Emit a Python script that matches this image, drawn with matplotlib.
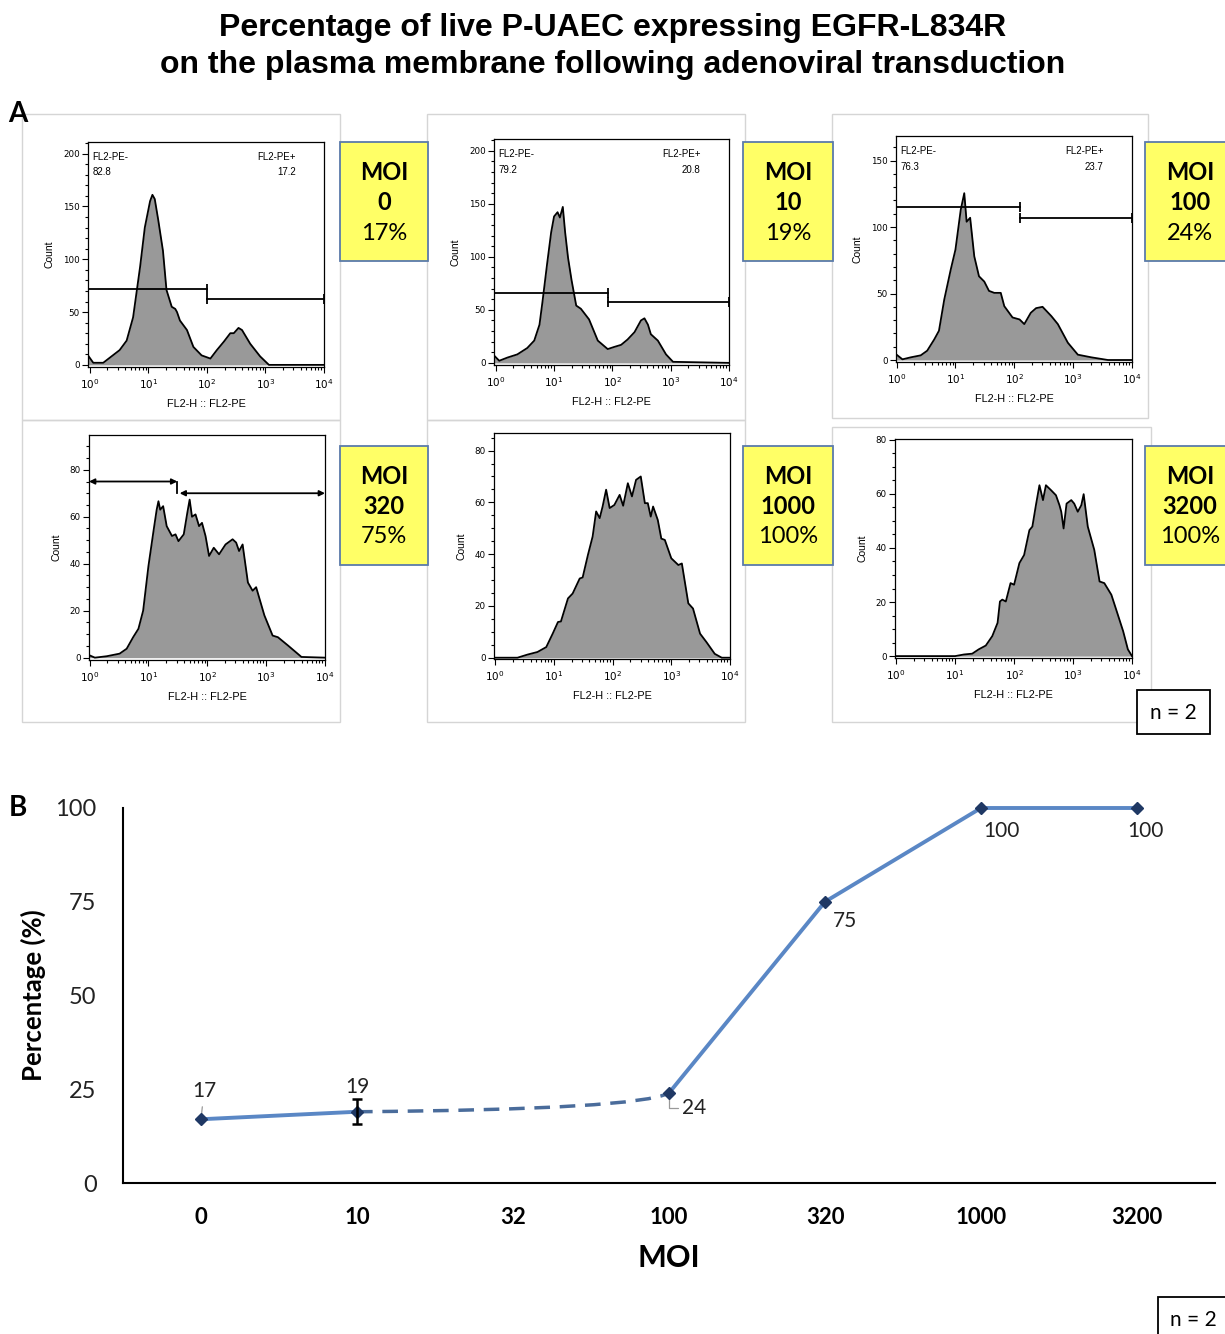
import numpy as np
import matplotlib.pyplot as plt
from matplotlib.patches import Rectangle, PathPatch
from matplotlib.path import Path
from matplotlib.ticker import FixedLocator, MultipleLocator, LogLocator, NullFormatter

W, H = 1225, 1334

# ---- Panel A: FL2-PE histogram outlines as (log10 FL2-PE, count) ----
moi0_logx = [-0.03, 0.06, 0.23, 0.37, 0.51, 0.63, 0.74, 0.86, 0.94, 1.03, 1.07, 1.11, 1.17, 1.25, 1.31,
             1.40, 1.46, 1.49, 1.54, 1.66, 1.77, 1.91, 2.06, 2.17, 2.29, 2.40, 2.46, 2.54, 2.60, 2.74,
             2.91, 3.06, 4.0]
moi0_count = [9, 2, 2, 8, 14, 23, 45, 93, 130, 155, 161, 157, 137, 108, 71,
              55, 53, 50, 42, 33, 17, 9, 6, 14, 22, 30, 30, 35, 33, 20,
              8, 0, 0]

moi10_logx = [-0.03, 0.06, 0.20, 0.37, 0.54, 0.66, 0.75, 0.80, 0.88, 0.95, 1.00, 1.06, 1.10, 1.15, 1.19,
              1.24, 1.30, 1.38, 1.46, 1.60, 1.75, 1.92, 2.03, 2.15, 2.26, 2.38, 2.49, 2.55, 2.61, 2.66,
              2.78, 2.92, 3.04, 4.0]
moi10_count = [7, 2, 5, 8, 14, 21, 36, 57, 93, 123, 138, 142, 137, 147, 123,
               99, 78, 54, 51, 41, 21, 13, 15, 17, 22, 29, 40, 42, 36, 27,
               21, 8, 1, 0]

moi100_logx = [0.0, 0.10, 0.24, 0.41, 0.52, 0.64, 0.72, 0.81, 0.92, 1.00, 1.09, 1.15, 1.19, 1.25, 1.32,
               1.40, 1.49, 1.57, 1.66, 1.77, 1.83, 1.97, 2.09, 2.17, 2.28, 2.37, 2.48, 2.63, 2.74, 2.91,
               3.08, 3.31, 3.59, 4.0]
moi100_count = [4, 0.5, 2, 3.5, 7, 15.5, 22, 45.5, 68, 83, 113, 125.5, 104, 107, 78,
                63, 59, 52, 50.5, 50.5, 40.5, 32, 30.5, 27, 35.5, 39, 40, 33, 27, 13,
                4, 2, 0, 0]

moi320_logx = [-0.03, 0.09, 0.29, 0.51, 0.63, 0.74, 0.83, 0.91, 1.00, 1.09, 1.14, 1.17, 1.20, 1.25, 1.31,
               1.40, 1.46, 1.51, 1.60, 1.66, 1.70, 1.74, 1.80, 1.86, 1.91, 1.97, 2.03, 2.11, 2.20, 2.31,
               2.43, 2.49, 2.54, 2.60, 2.69, 2.77, 2.83, 2.97, 3.11, 3.20, 3.37, 3.60, 4.0]
moi320_count = [1.3, 0, 0.6, 1.7, 3.8, 8.7, 12.3, 20, 39, 54.6, 63, 66.6, 63, 64.5, 56,
                51.8, 52.5, 49.6, 52.5, 61.6, 67.3, 60, 61, 56, 57.4, 51.8, 43.3, 46.8, 44, 48.2,
                50.4, 49, 45.4, 48.2, 32, 28.5, 30, 18, 9.4, 8.7, 5.2, 0.3, 0]

moi1000_logx = [-0.02, 0.38, 0.55, 0.72, 0.87, 0.98, 1.07, 1.12, 1.24, 1.32, 1.44, 1.49, 1.58, 1.66, 1.72,
                1.78, 1.83, 1.89, 1.95, 2.03, 2.12, 2.18, 2.26, 2.33, 2.40, 2.48, 2.55, 2.60, 2.65, 2.69,
                2.77, 2.83, 2.89, 3.00, 3.12, 3.18, 3.29, 3.37, 3.49, 3.60, 3.74, 3.86, 4.0]
moi1000_count = [0, 0, 1.2, 2.2, 4.1, 9.3, 13.8, 14, 22.9, 24.8, 30.6, 31, 39.7, 46.8, 56.5,
                 53.9, 58.4, 64.9, 57.8, 59, 62.9, 58.7, 67.4, 62.3, 68.7, 70, 59.7, 59.7, 54.5, 58.4,
                 53.2, 46, 45.5, 38.4, 35.8, 36.4, 21, 19, 9.3, 6, 1.5, 0, 0]

moi3200_logx = [-0.02, 1.00, 1.15, 1.29, 1.40, 1.52, 1.63, 1.72, 1.76, 1.80, 1.86, 1.94, 2.00, 2.09, 2.17,
                2.26, 2.31, 2.37, 2.43, 2.49, 2.54, 2.63, 2.71, 2.77, 2.80, 2.84, 2.89, 2.97, 3.02, 3.08,
                3.14, 3.18, 3.25, 3.36, 3.45, 3.53, 3.65, 3.76, 3.85, 3.93, 4.0]
moi3200_count = [0, 0, 0.6, 0.9, 2.5, 3.9, 7.4, 12.3, 20.2, 20.9, 20.2, 27, 26.4, 34.4, 37.4,
                 46.6, 47.9, 55.8, 63.2, 57.7, 63.2, 61.3, 59.5, 55.8, 53.4, 47.2, 56.4, 57.7, 56.4, 53.4,
                 55.8, 59.9, 47.9, 39.3, 27.6, 27, 22.7, 15.3, 9.2, 2.5, 0]

# FlowJo gate statistics (% negative / % positive) for MOI 0, 10, 100
gate_neg = ['82.8', '79.2', '76.3']
gate_pos = ['17.2', '20.8', '23.7']
gate_split = [2.00, 1.92, 2.10]      # log10 boundary between the two gates
gate_neg_level = [72, 66, 115]       # height of the gate bars (count)
gate_pos_level = [62, 57, 107]

# MOI 320 uses a pair of arrow gates
gate320_split = 1.49
gate320_levels = [75, 70]

# ---- Panel B: percentage of PE+ cells per MOI ----
moi_labels = ['0', '10', '32', '100', '320', '1000', '3200']
pct = [17, 19, np.nan, 24, 75, 100, 100]
pct_err_moi10 = 3.3

panel_moi = ['0', '10', '100', '320', '1000', '3200']
panel_pct = [17, 19, 24, 75, 100, 100]

fig = plt.figure(figsize=(W / 100, H / 100), dpi=100)
fig.patch.set_facecolor('white')


def fig_rect(x0, y0, x1, y1):
    return [x0 / W, 1 - y1 / H, (x1 - x0) / W, (y1 - y0) / H]


def add_box(x0, y0, x1, y1, **kw):
    fig.add_artist(Rectangle((x0 / W, 1 - y1 / H), (x1 - x0) / W, (y1 - y0) / H,
                             transform=fig.transFigure, **kw))


def histogram(box, logx, count, xlo, ylim, ymajor, yminor):
    ax = fig.add_axes(fig_rect(*box))
    x = 10 ** np.asarray(logx)
    ax.fill_between(x, count, 0, color='#999999', lw=0)
    ax.plot(x, count, color='black', lw=1.3, solid_joinstyle='round')
    ax.set_xscale('log')
    ax.set_xlim(10 ** xlo, 1e4)
    ax.set_ylim(*ylim)
    ax.xaxis.set_major_locator(FixedLocator([1, 10, 100, 1000, 10000]))
    ax.xaxis.set_minor_locator(LogLocator(base=10, subs=np.arange(2, 10)))
    ax.xaxis.set_minor_formatter(NullFormatter())
    ax.yaxis.set_major_locator(FixedLocator(ymajor))
    ax.yaxis.set_minor_locator(MultipleLocator(yminor))
    ax.tick_params(which='both', direction='out', width=0.8, pad=2)
    ax.tick_params(axis='y', labelsize=6.3)
    ax.tick_params(axis='x', labelsize=7.5, pad=3)
    ax.tick_params(which='major', length=4)
    ax.tick_params(which='minor', length=2.5)
    for s in ax.spines.values():
        s.set_linewidth(0.9)
    ax.set_ylabel('Count', fontsize=7.5, labelpad=6, family='Liberation Sans')
    ax.set_xlabel('FL2-H :: FL2-PE', fontsize=7.8, labelpad=6, family='Liberation Sans')
    return ax


def moi_tag(x0, y0, x1, y1, moi, p):
    add_box(x0, y0, x1, y1, facecolor='#FFFF66', edgecolor='#5B7BAA', lw=1.3)
    cx = (x0 + 90 / 2) if x1 > W else (x0 + x1) / 2
    fig.text(cx / W, 1 - (y0 + 30) / H, 'MOI', ha='center', va='center',
             fontsize=17, fontweight='bold', family='Lato')
    fig.text(cx / W, 1 - (y0 + 60) / H, moi, ha='center', va='center',
             fontsize=17, fontweight='bold', family='Lato')
    fig.text(cx / W, 1 - (y0 + 91) / H, f'{p}%', ha='center', va='center',
             fontsize=17, family='Lato')


# title
fig.text(0.5, 1 - 28 / H, 'Percentage of live P-UAEC expressing EGFR-L834R', ha='center', va='center',
         fontsize=23, fontweight='bold', family='Liberation Sans')
fig.text(0.5, 1 - 65 / H, 'on the plasma membrane following adenoviral transduction', ha='center',
         va='center', fontsize=23, fontweight='bold', family='Liberation Sans')

# light frames of the exported FlowJo plots
frame_kw = dict(facecolor='none', edgecolor='#D5D5D5', lw=1)
add_box(22, 114, 340, 420, **frame_kw)
add_box(427, 114, 745, 420, **frame_kw)
add_box(832, 114, 1148, 418, **frame_kw)
add_box(22, 420, 340, 722, **frame_kw)
add_box(427, 420, 745, 722, **frame_kw)
add_box(832, 427, 1151, 722, **frame_kw)

fig.text(18 / W, 1 - 114 / H, 'A', ha='center', va='center', fontsize=20, fontweight='bold', family='Lato')
fig.text(18 / W, 1 - 808 / H, 'B', ha='center', va='center', fontsize=20, fontweight='bold', family='Lato')

ax_a1 = histogram((88, 142, 324, 367), moi0_logx, moi0_count, -0.03, (-2, 211), [0, 50, 100, 150, 200], 10)
ax_a2 = histogram((494, 139, 729, 365), moi10_logx, moi10_count, -0.03, (-2, 211), [0, 50, 100, 150, 200], 10)
ax_a3 = histogram((896, 136, 1132, 362), moi100_logx, moi100_count, -0.01, (-1.5, 168.5), [0, 50, 100, 150], 10)
ax_b1 = histogram((89, 435, 325, 660), moi320_logx, moi320_count, -0.01, (-1, 94.8), [0, 20, 40, 60, 80], 5)
ax_b2 = histogram((494, 433, 730, 659), moi1000_logx, moi1000_count, -0.02, (-0.5, 86.8), [0, 20, 40, 60, 80], 5)
ax_b3 = histogram((895, 439, 1132, 658), moi3200_logx, moi3200_count, -0.02, (-0.7, 80.3), [0, 20, 40, 60, 80], 5)

# two-bar gates with FlowJo statistics
for i, ax in enumerate([ax_a1, ax_a2, ax_a3]):
    lo = ax.get_xlim()[0]
    split = 10 ** gate_split[i]
    ax.plot([lo, split], [gate_neg_level[i]] * 2, color='black', lw=1.3)
    ax.plot([split], [gate_neg_level[i]], marker='|', ms=7, mew=1.3, color='black')
    ax.plot([split, 1e4], [gate_pos_level[i]] * 2, color='black', lw=1.3, clip_on=False)
    ax.plot([split, 1e4], [gate_pos_level[i]] * 2, ls='none', marker='|', ms=7, mew=1.3,
            color='black', clip_on=False)
    txt = dict(fontsize=7, family='Liberation Sans', transform=ax.transAxes, va='center')
    ax.text(0.02, 0.935, 'FL2-PE-', ha='left', **txt)
    ax.text(0.02, 0.865, gate_neg[i], ha='left', **txt)
    ax.text(0.88, 0.935, 'FL2-PE+', ha='right', **txt)
    ax.text(0.88, 0.865, gate_pos[i], ha='right', **txt)

# arrow gates on the MOI 320 plot
lo = ax_b1.get_xlim()[0]
split = 10 ** gate320_split
arrow_kw = dict(arrowstyle='<|-|>', color='black', lw=1.3, mutation_scale=8, shrinkA=0, shrinkB=0)
ax_b1.annotate('', xy=(split, gate320_levels[0]), xytext=(lo, gate320_levels[0]), arrowprops=arrow_kw)
ax_b1.plot([split, split], gate320_levels, color='black', lw=1.3)
ax_b1.annotate('', xy=(1e4, gate320_levels[1]), xytext=(10 ** (gate320_split + 0.04), gate320_levels[1]),
               arrowprops=arrow_kw, annotation_clip=False)

# yellow MOI tags
tag_boxes = [(340, 142, 428, 261), (743, 142, 833, 261), (1145, 142, 1235, 261),
             (340, 446, 428, 565), (743, 446, 833, 565), (1145, 446, 1235, 565)]
for (x0, y0, x1, y1), m, p in zip(tag_boxes, panel_moi, panel_pct):
    moi_tag(x0, y0, x1, y1, m, p)

# n = 2 boxes
add_box(1137, 690, 1210, 734, facecolor='white', edgecolor='black', lw=1.3)
fig.text(1173 / W, 1 - 713 / H, 'n = 2', ha='center', va='center', fontsize=15, family='Lato')
add_box(1158, 1297, 1240, 1345, facecolor='white', edgecolor='black', lw=1.3)
fig.text(1193 / W, 1 - 1320 / H, 'n = 2', ha='center', va='center', fontsize=15, family='Lato')

# ---- panel B line chart ----
ax = fig.add_axes(fig_rect(123, 808, 1215, 1183))
xs = np.arange(len(moi_labels))
ys = np.array(pct, dtype=float)
line_c = '#5A87C5'
ax.plot(xs[:2], ys[:2], color=line_c, lw=2.8, solid_capstyle='round', zorder=3)
ax.plot(xs[3:], ys[3:], color=line_c, lw=2.8, solid_joinstyle='round', zorder=3, clip_on=False)

# smoothed dashed connector across the missing MOI 32 point
p0 = (xs[1], ys[1])
p2 = (xs[3], ys[3])
ctrl = (p2[0] - 0.2, p0[1] + 0.6)
curve = Path([p0, ctrl, p2], [Path.MOVETO, Path.CURVE3, Path.CURVE3])
ax.add_patch(PathPatch(curve, fill=False, edgecolor='#4A6C9B', lw=2.5, ls=(0, (4.5, 2.8)), zorder=3))

ok = ~np.isnan(ys)
ax.plot(xs[ok], ys[ok], ls='none', marker='D', ms=6, color='#1F3864', zorder=5, clip_on=False)
ax.errorbar(xs[1], ys[1], yerr=pct_err_moi10, fmt='none', ecolor='black', elinewidth=1.8,
            capsize=3.5, capthick=1.8, zorder=6)

lab_kw = dict(textcoords='offset pixels', fontsize=15, family='Lato', color='#222222', va='center')
leader = dict(arrowstyle='-', color='#999999', lw=0.9)
ax.annotate(f'{pct[0]:g}', xy=(xs[0], ys[0]), xytext=(3, 28), ha='center',
            arrowprops=dict(leader, shrinkA=2, shrinkB=2), **lab_kw)
ax.annotate(f'{pct[1]:g}', xy=(xs[1], ys[1]), xytext=(0, 25), ha='center', **lab_kw)
ax.annotate(f'{pct[3]:g}', xy=(xs[3], ys[3]), xytext=(13, -15), ha='left',
            arrowprops=dict(leader, shrinkA=1, shrinkB=4, connectionstyle='angle,angleA=0,angleB=90,rad=0'),
            **lab_kw)
ax.annotate(f'{pct[4]:g}', xy=(xs[4], ys[4]), xytext=(8, -19), ha='left', **lab_kw)
ax.annotate(f'{pct[5]:g}', xy=(xs[5], ys[5]), xytext=(2, -23), ha='left', **lab_kw)
ax.annotate(f'{pct[6]:g}', xy=(xs[6], ys[6]), xytext=(8, -23), ha='center', **lab_kw)

ax.set_xlim(-0.5, 6.5)
ax.set_ylim(0, 100)
ax.set_xticks(xs)
ax.set_xticklabels(moi_labels, fontsize=16, fontweight='bold', family='Lato')
ax.set_yticks([0, 25, 50, 75, 100])
ax.set_yticklabels(['0', '25', '50', '75', '100'], fontsize=17, family='Lato', color='#222222')
ax.tick_params(length=0)
ax.tick_params(axis='y', pad=19)
ax.tick_params(axis='x', pad=17)
for s in ['top', 'right']:
    ax.spines[s].set_visible(False)
for s in ['left', 'bottom']:
    ax.spines[s].set_linewidth(1.5)
ax.set_xlabel('MOI', fontsize=22, fontweight='bold', family='Lato', labelpad=12)
ax.set_ylabel('Percentage (%)', fontsize=18.5, fontweight='bold', family='Lato', labelpad=7)

fig.savefig('out.png', dpi=100)
